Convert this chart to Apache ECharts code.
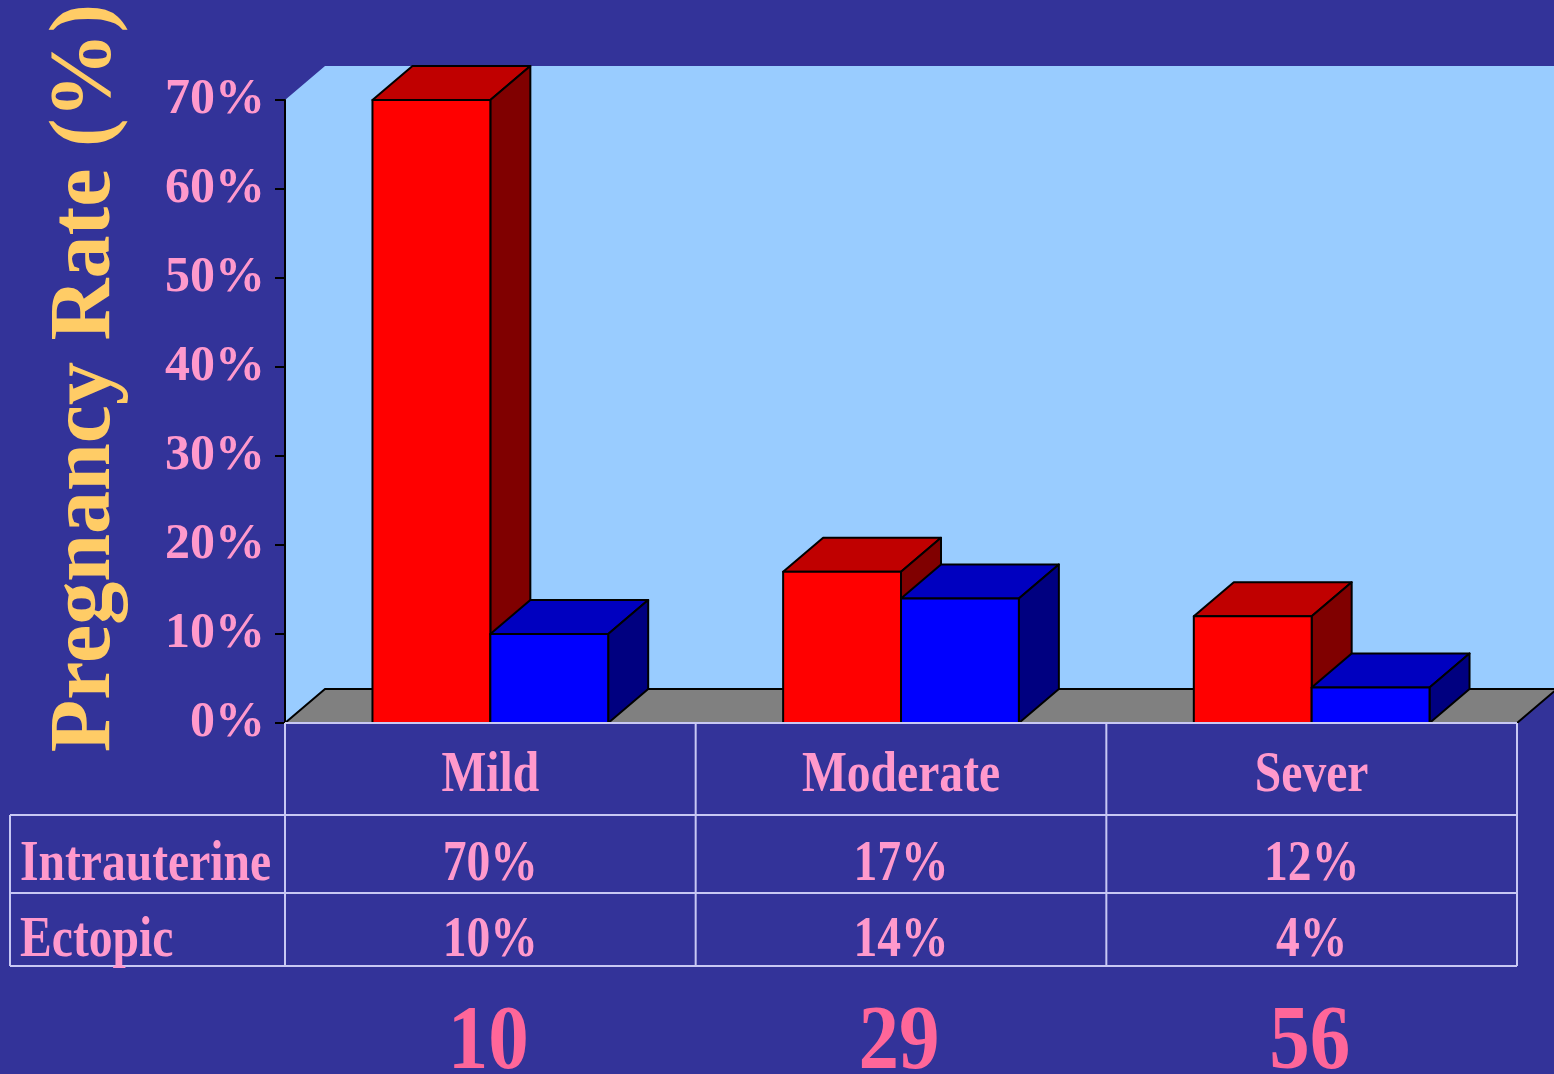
<!DOCTYPE html>
<html>
<head>
<meta charset="utf-8">
<script src="https://cdn.jsdelivr.net/npm/echarts@6/dist/echarts.min.js"></script>
<style>
html,body{margin:0;padding:0;background:#333399;}
#main{width:1554px;height:1074px;}
</style>
</head>
<body>
<div id="main"></div>
<script>
//数据
var categories = ['Mild', 'Moderate', 'Sever'];
var intrauterine = [70, 17, 12];
var ectopic = [10, 14, 4];
var patients = [10, 29, 56];
var yMax = 70, yStep = 10;

//布局
var L = 285, R = 1517, T = 100, B = 723;
var DX = 40, DY = -34;
var SERIF = '"Liberation Serif", "Times New Roman", serif';
var PINK = '#FF99CC';

var chart = echarts.init(document.getElementById('main'));

//三维柱子
function bar3d(front, top, side, leftSide) {
	return function (params, api) {
		var base = api.coord([api.value(0), 0]);
		var peak = api.coord([api.value(0), api.value(1)]);
		var w = api.size([1, 0])[0] * 0.287;
		var x0 = leftSide ? base[0] - w : base[0];
		var x1 = x0 + w;
		var y0 = base[1], y1 = peak[1];
		var line = { stroke: '#000', lineWidth: 2, lineJoin: 'round' };
		return {
			type: 'group',
			children: [
				{ type: 'polygon', shape: { points: [[x0, y1], [x0 + DX, y1 + DY], [x1 + DX, y1 + DY], [x1, y1]] },
				  style: Object.assign({ fill: top }, line) },
				{ type: 'polygon', shape: { points: [[x1, y1], [x1 + DX, y1 + DY], [x1 + DX, y0 + DY], [x1, y0]] },
				  style: Object.assign({ fill: side }, line) },
				{ type: 'rect', shape: { x: x0, y: y1, width: w, height: y0 - y1 },
				  style: Object.assign({ fill: front }, line) }
			]
		};
	};
}

//背景墙和地面
function wallItem(params, api) {
	var c = params.coordSys;
	var l = c.x, r = c.x + c.width, t = c.y, b = c.y + c.height;
	return {
		type: 'group',
		children: [
			{ type: 'polygon', shape: { points: [[l, t], [l + DX, t + DY], [r + DX + 5, t + DY], [r + DX + 5, b + DY], [l + DX, b + DY], [l, b]] },
			  style: { fill: '#99CCFF' } },
			{ type: 'polygon', shape: { points: [[l, b], [l + DX, b + DY], [r + DX, b + DY], [r, b]] },
			  style: { fill: '#808080', stroke: '#000', lineWidth: 2 } }
		]
	};
}

//表格
var colW = (R - L) / categories.length;
var lineColor = '#C8C8F4';
var graphics = [];
function hline(x1, x2, y) {
	graphics.push({ type: 'line', z: 100, shape: { x1: x1, y1: y, x2: x2, y2: y }, style: { stroke: lineColor, lineWidth: 2 } });
}
function vline(x, y1, y2) {
	graphics.push({ type: 'line', z: 100, shape: { x1: x, y1: y1, x2: x, y2: y2 }, style: { stroke: lineColor, lineWidth: 2 } });
}
function label(text, x, y, size, color, align, sx) {
	graphics.push({ type: 'text', z: 101, x: x, y: y, scaleX: sx,
		style: { text: text, fill: color, font: 'bold ' + size + 'px ' + SERIF, align: align, verticalAlign: 'middle' } });
}
var rows = [723, 815, 893, 966];
hline(L, R, rows[0]);
hline(10, R, rows[1]);
hline(10, R, rows[2]);
hline(10, R, rows[3]);
vline(10, rows[1], rows[3]);
for (var k = 0; k <= categories.length; k++) {
	vline(L + k * colW, rows[0], rows[3]);
}
label('Intrauterine', 20, 866, 56, PINK, 'left', 0.85);
label('Ectopic', 20, 942, 56, PINK, 'left', 0.85);
categories.forEach(function (name, i) {
	var cx = L + (i + 0.5) * colW;
	label(name, cx, 777, 56, PINK, 'center', 0.85);
	label(intrauterine[i] + '%', cx, 866, 56, PINK, 'center', 0.85);
	label(ectopic[i] + '%', cx, 942, 56, PINK, 'center', 0.85);
	label(String(patients[i]), cx - 2, 1045, 90, '#FF6699', 'center', 0.9);
});
//纵轴标题
graphics.push({ type: 'text', z: 101, x: 87, y: 378, rotation: Math.PI / 2,
	style: { text: 'Pregnancy Rate (%)', fill: '#FFCC66', font: 'bold 86px ' + SERIF, align: 'center', verticalAlign: 'middle' } });

var option = {
	backgroundColor: '#333399',
	animation: false,
	grid: { left: L, right: 1554 - R, top: T, bottom: 1074 - B },
	xAxis: {
		type: 'category',
		data: categories,
		axisLine: { show: false },
		axisTick: { show: false },
		axisLabel: { show: false }
	},
	yAxis: {
		type: 'value',
		min: 0,
		max: yMax,
		interval: yStep,
		z: 10,
		splitLine: { show: false },
		axisLine: { show: true, lineStyle: { color: '#000', width: 2 } },
		axisTick: { show: true, length: 10, lineStyle: { color: '#000', width: 2 } },
		axisLabel: {
			formatter: '{value}%',
			color: PINK,
			fontFamily: SERIF,
			fontWeight: 'bold',
			fontSize: 50,
			margin: 20
		}
	},
	graphic: graphics,
	series: [
		{
			type: 'custom',
			silent: true,
			renderItem: wallItem,
			data: [[0, 0]],
			z: 1
		},
		{
			name: 'Intrauterine',
			type: 'custom',
			renderItem: bar3d('#FF0000', '#C00000', '#800000', true),
			data: intrauterine.map(function (v, i) { return [i, v]; }),
			z: 2
		},
		{
			name: 'Ectopic',
			type: 'custom',
			renderItem: bar3d('#0000FF', '#0000C0', '#000080', false),
			data: ectopic.map(function (v, i) { return [i, v]; }),
			z: 3
		}
	]
};
chart.setOption(option);
</script>
</body>
</html>
